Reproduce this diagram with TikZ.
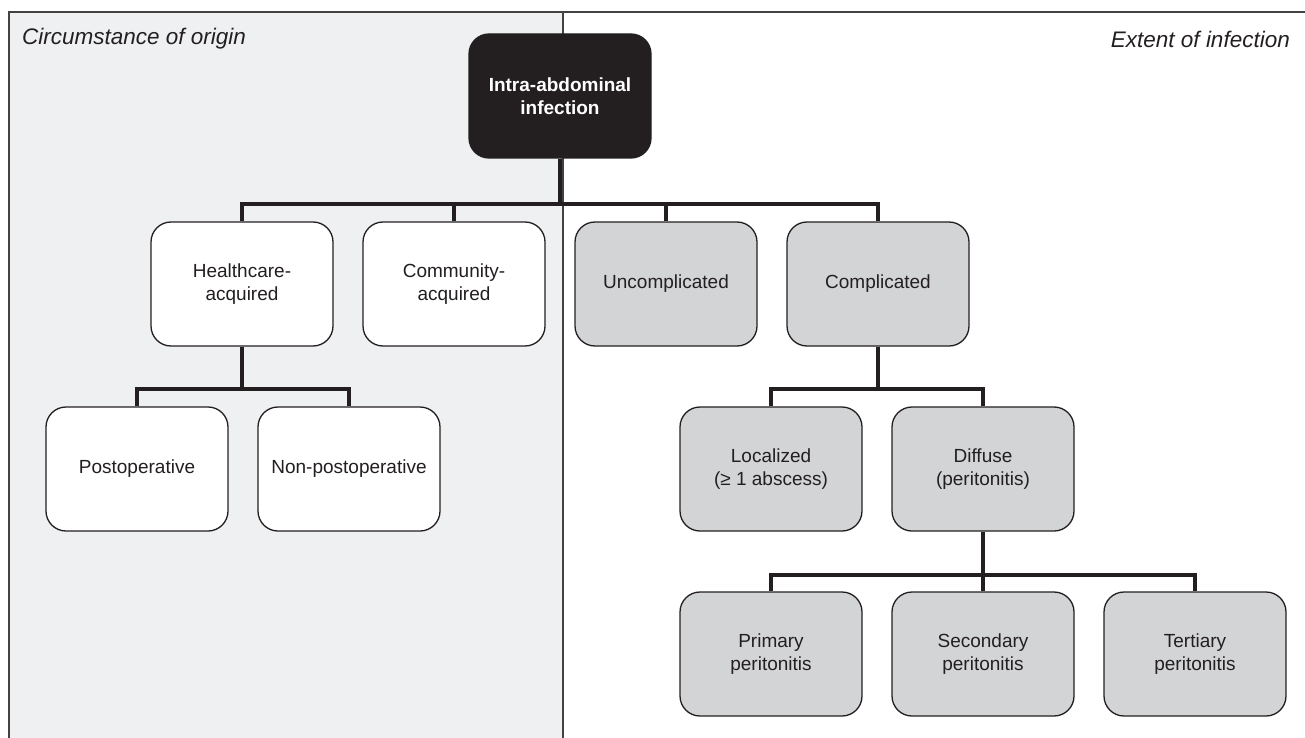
\documentclass[tikz,border=0pt]{standalone}
\usepackage{fontspec}
\setmainfont{Liberation Sans}
\definecolor{panel}{HTML}{EFF0F2}
\definecolor{boxgray}{HTML}{D3D4D6}
\definecolor{ink}{HTML}{231F20}
\begin{document}
\begin{tikzpicture}[x=1pt,y=-1pt,
  basebox/.style={rectangle,rounded corners=20pt,draw=ink,line width=1.3pt,
    minimum width=182pt,minimum height=124pt,align=center,
    font=\fontsize{19}{22.5}\selectfont,text=ink,inner sep=2pt},
  whitebox/.style={basebox,fill=white},
  graybox/.style={basebox,fill=boxgray},
  rootbox/.style={basebox,fill=ink,text=white,font=\fontsize{19}{22.5}\selectfont\bfseries},
  conn/.style={draw=ink,line width=4pt,line join=miter},
  frame/.style={draw=ink!85,line width=1.3pt},
  hdr/.style={font=\fontsize{22.5}{25}\selectfont\itshape,text=ink,inner sep=0pt}]
\useasboundingbox (0,0) rectangle (1305,738);
% background panel
\fill[panel] (9,12) rectangle (563,738);
\draw[frame] (9,738) -- (9,12) -- (1305,12);
\draw[frame] (563,12) -- (563,738);
% headers
\node[hdr,anchor=west] (h1) at (22,39) {Circumstance of origin};
\node[hdr,anchor=east] (h2) at (1290,39) {Extent of infection};
% nodes
\node[rootbox] (root) at (560,96) {Intra-abdominal\\infection};
\node[whitebox] (hc) at (242,284) {Healthcare-\\acquired};
\node[whitebox] (ca) at (454,284) {Community-\\acquired};
\node[graybox] (un) at (666,284) {Uncomplicated};
\node[graybox] (cp) at (878,284) {Complicated};
\node[whitebox] (po) at (137,469) {Postoperative};
\node[whitebox] (np) at (349,469) {Non-postoperative};
\node[graybox] (lo) at (771,469) {Localized\\(≥ 1 abscess)};
\node[graybox] (di) at (983,469) {Diffuse\\(peritonitis)};
\node[graybox] (pr) at (771,654) {Primary\\peritonitis};
\node[graybox] (se) at (983,654) {Secondary\\peritonitis};
\node[graybox] (te) at (1195,654) {Tertiary\\peritonitis};
% bar coordinates
\coordinate (b1) at (0,204);
\coordinate (b2) at (0,389);
\coordinate (b3) at (0,575);
% connectors level 1
\draw[conn] (root.south) -- (root.south |- b1);
\draw[conn] (hc.north) -- (hc.north |- b1) -- (cp.north |- b1) -- (cp.north);
\draw[conn] (ca.north) -- (ca.north |- b1);
\draw[conn] (un.north) -- (un.north |- b1);
% connectors level 2 left
\draw[conn] (hc.south) -- (hc.south |- b2);
\draw[conn] (po.north) -- (po.north |- b2) -- (np.north |- b2) -- (np.north);
% connectors level 2 right
\draw[conn] (cp.south) -- (cp.south |- b2);
\draw[conn] (lo.north) -- (lo.north |- b2) -- (di.north |- b2) -- (di.north);
% connectors level 3
\draw[conn] (di.south) -- (di.south |- b3);
\draw[conn] (pr.north) -- (pr.north |- b3) -- (te.north |- b3) -- (te.north);
\draw[conn] (se.north) -- (se.north |- b3);
\end{tikzpicture}
\end{document}
